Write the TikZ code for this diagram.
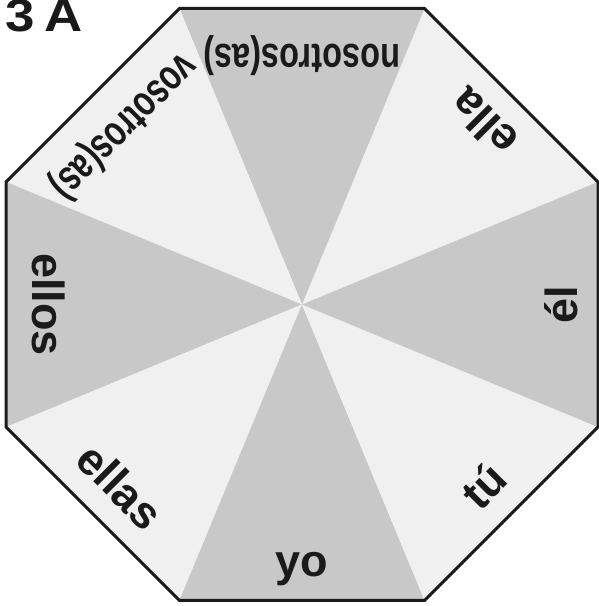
\documentclass[tikz,border=0pt]{standalone}
\usepackage{fontspec}
\setmainfont{Liberation Sans}
\definecolor{ink}{HTML}{1A1A1A}
\definecolor{darkseg}{HTML}{C8C8C8}
\definecolor{lightseg}{HTML}{F0F0F0}
\begin{document}
\begin{tikzpicture}[x=1pt,y=1pt,
  lbl/.style={font=\fontsize{45}{45}\selectfont\bfseries, text=ink, inner sep=0pt, anchor=base},
  longlbl/.style={font=\fontsize{43}{43}\selectfont\bfseries, text=ink, inner sep=0pt, anchor=base},
  border/.style={draw=ink, line width=3pt, line join=miter},
  title/.style={font=\fontsize{46}{46}\selectfont\bfseries, text=ink, inner sep=0pt, anchor=base west}]
\useasboundingbox (0,0) rectangle (599,606);
\coordinate (c) at (302,301.5);
\foreach \k in {0,...,7}{
  \path (c) ++(22.5+45*\k:320.4) coordinate (v\k);
}
\foreach \k in {0,...,7}{
  \pgfmathtruncatemacro{\nx}{mod(\k+1,8)}
  \pgfmathtruncatemacro{\odd}{mod(\k,2)}
  \ifnum\odd=1
    \fill[darkseg] (c) -- (v\k) -- (v\nx) -- cycle;
  \else
    \fill[lightseg] (c) -- (v\k) -- (v\nx) -- cycle;
  \fi
}
\draw[border] (v0) -- (v1) -- (v2) -- (v3) -- (v4) -- (v5) -- (v6) -- (v7) -- cycle;
\path (c) ++(45:273) node[lbl, rotate=135] (ella) {ella};
\path (c) ++(90:260) node[longlbl, rotate=180] (nosotros) {\scalebox{0.755}[1]{nosotros(as)}};
\path (c) ++(135:264) node[longlbl, rotate=225] (vosotros) {\scalebox{0.73}[1]{vosotros(as)}};
\path (c) ++(180:270) node[lbl, rotate=270] (ellos) {ellos};
\path (c) ++(225:273) node[lbl, rotate=315] (ellas) {ellas};
\path (c) ++(270:272.5) node[lbl] (yo) {yo};
\path (c) ++(315:273) node[lbl, rotate=45] (tu) {tú};
\path (c) ++(0:275) node[lbl, rotate=90] (el) {él};
\node[title] (t) at (5,574) {\scalebox{1.15}[1]{3\hspace{0.18em}A}};
\end{tikzpicture}
\end{document}
